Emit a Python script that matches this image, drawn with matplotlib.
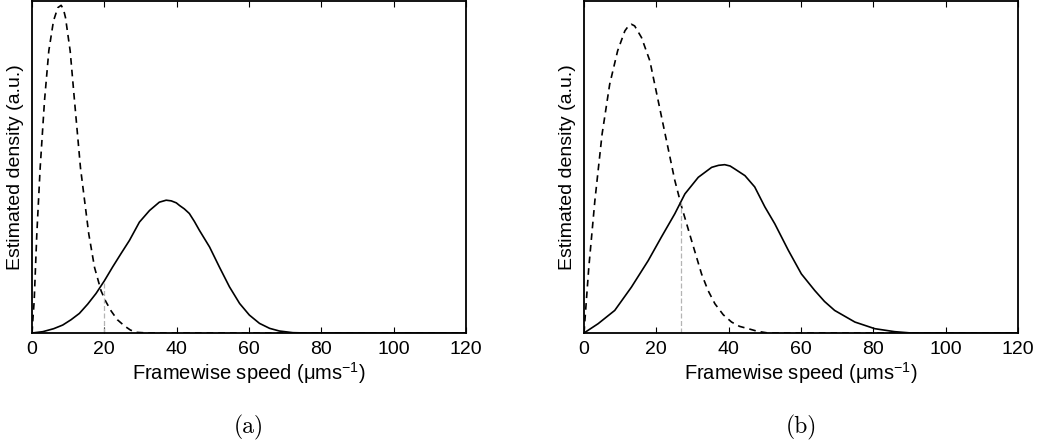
import numpy as np
import matplotlib
matplotlib.use('Agg')
import matplotlib.pyplot as plt

# values (density in arbitrary units, 0..1 of axis height)
speed_ticks = [0, 20, 40, 60, 80, 100, 120]

a_slow_x = [0, 0.3, 0.6, 1.33, 2.26, 3.46, 4.65, 5.94, 7.14, 8.06, 8.7, 9.26, 10.55, 11.75,
            13.4, 15.7, 17.3, 19.1, 20.4, 21.9, 23.6, 25.6, 27.2, 28.8, 32, 120]
a_slow_y = [0, 0.05, 0.096, 0.298, 0.498, 0.70, 0.85, 0.94, 0.98, 0.987, 0.975, 0.95, 0.85, 0.70,
            0.498, 0.298, 0.197, 0.127, 0.095, 0.066, 0.04, 0.021, 0.009, 0.002, 0, 0]
a_fast_x = [0, 3, 6, 8.5, 10.8, 13.1, 15.4, 17.7, 20.0, 22.3, 24.6, 26.95, 29.7, 32.5, 35.2,
            37.1, 38.5, 39.9, 40.8, 42.1, 43.5, 44.9, 46.3, 49.1, 51.8, 54.6, 57.4, 60.1,
            62.9, 65.7, 68.4, 72.1, 76, 120]
a_fast_y = [0, 0.004, 0.013, 0.024, 0.04, 0.059, 0.087, 0.119, 0.157, 0.199, 0.239, 0.279,
            0.334, 0.369, 0.394, 0.40, 0.398, 0.392, 0.384, 0.374, 0.36, 0.336, 0.309, 0.259,
            0.199, 0.139, 0.089, 0.054, 0.029, 0.014, 0.006, 0.001, 0, 0]
a_cross = 19.8

b_slow_x = [0, 0.6, 1.33, 3.0, 5.0, 7.1, 9.3, 11.3, 12.3, 13.1, 14.0, 15.9, 18.2, 20.5, 22.8,
            25.1, 27.0, 29.7, 32.5, 34.3, 36.2, 38.5, 40.8, 43.0, 45.4, 48.0, 50.9, 120]
b_slow_y = [0, 0.09, 0.198, 0.398, 0.599, 0.749, 0.85, 0.91, 0.925, 0.93, 0.925, 0.89, 0.82,
            0.70, 0.58, 0.46, 0.38, 0.28, 0.178, 0.128, 0.088, 0.055, 0.033, 0.02, 0.013,
            0.005, 0, 0]
b_fast_x = [0, 3.9, 8.5, 13.1, 17.75, 21.4, 25.1, 27.9, 31.6, 35.3, 37.2, 38.9, 40.4, 41.7,
            44.5, 47.2, 50.0, 52.75, 56.5, 60.1, 63.8, 66.5, 69.3, 74.9, 80.4, 85.9, 90.5, 120]
b_fast_y = [0, 0.028, 0.068, 0.138, 0.218, 0.289, 0.359, 0.419, 0.469, 0.499, 0.505, 0.507,
            0.503, 0.494, 0.474, 0.44, 0.38, 0.329, 0.249, 0.178, 0.128, 0.095, 0.068, 0.033,
            0.013, 0.004, 0, 0]
b_cross = 26.8

plt.rcParams['font.family'] = ['Liberation Sans', 'DejaVu Sans']
plt.rcParams['mathtext.fontset'] = 'custom'
plt.rcParams['mathtext.rm'] = 'Liberation Sans'
plt.rcParams['mathtext.it'] = 'Liberation Sans:italic'


def draw_panel(ax, slow_x, slow_y, fast_x, fast_y, cross, tag):
    ax.plot(slow_x, slow_y, color='black', lw=1.2, ls=(0, (4, 3)))
    ax.plot(fast_x, fast_y, color='black', lw=1.2, solid_joinstyle='round')
    top = np.interp(cross, fast_x, fast_y)
    ax.plot([cross, cross], [0, top], color='#b4b4b4', lw=0.9, ls=(0, (4, 2)))
    ax.set_xlim(0, 120)
    ax.set_ylim(0, 1)
    ax.set_xticks(speed_ticks)
    ax.set_yticks([])
    ax.tick_params(axis='x', direction='in', top=True, length=4, width=0.8,
                   labelsize=14, pad=6)
    for s in ax.spines.values():
        s.set_linewidth(1.3)
    ax.set_xlabel('Framewise speed (μms$^{-1}$)', fontsize=14.5, labelpad=1)
    ax.set_ylabel('Estimated density (a.u.)', fontsize=14, labelpad=6)
    ax.text(0.5, -0.285, tag, transform=ax.transAxes, ha='center', va='center',
            fontsize=17, family='cmr10')


fig = plt.figure(figsize=(10.4, 4.43), dpi=100)
ax1 = fig.add_axes([32 / 1040, 110 / 443, 434 / 1040, 332 / 443])
ax2 = fig.add_axes([584 / 1040, 110 / 443, 434 / 1040, 332 / 443])

draw_panel(ax1, a_slow_x, a_slow_y, a_fast_x, a_fast_y, a_cross, '(a)')
draw_panel(ax2, b_slow_x, b_slow_y, b_fast_x, b_fast_y, b_cross, '(b)')

fig.savefig('out.png', dpi=100)
